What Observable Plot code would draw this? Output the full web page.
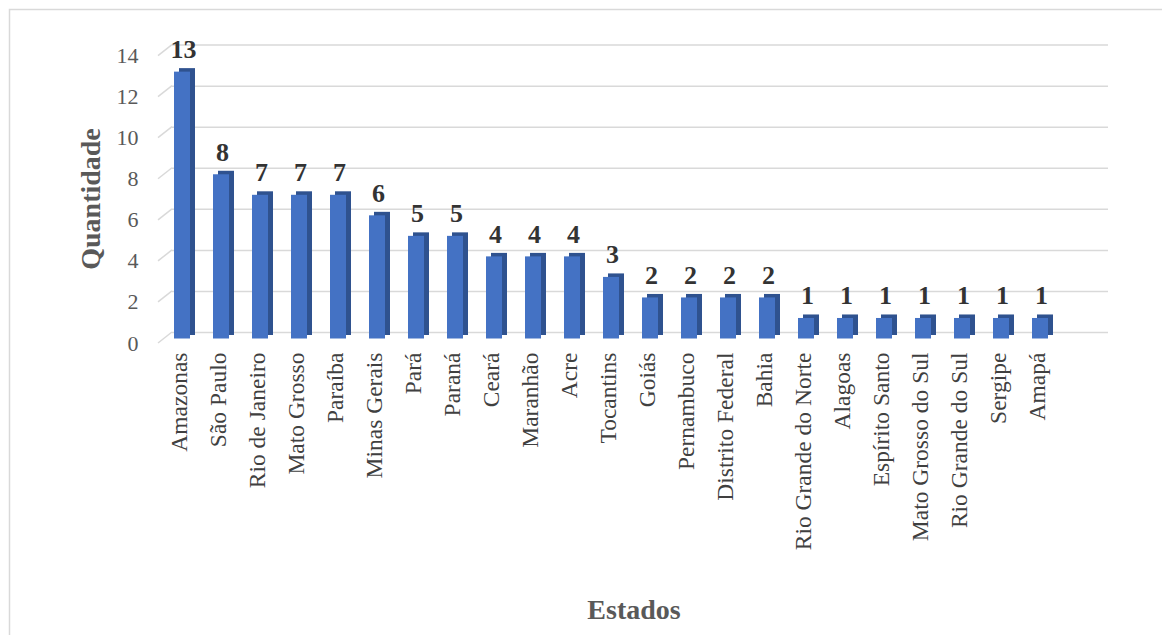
<!DOCTYPE html>
<html>
<head>
<meta charset="utf-8">
<script src="https://cdn.jsdelivr.net/npm/d3@7"></script>
<script src="https://cdn.jsdelivr.net/npm/@observablehq/plot@0.6"></script>
<style>
  html, body { margin: 0; padding: 0; background: #fff; }
  #chart svg { display: block; }
</style>
</head>
<body>
<div id="chart"></div>
<script>
const states = ["Amazonas","São Paulo","Rio de Janeiro","Mato Grosso","Paraíba","Minas Gerais","Pará","Paraná","Ceará","Maranhão","Acre","Tocantins","Goiás","Pernambuco","Distrito Federal","Bahia","Rio Grande do Norte","Alagoas","Espírito Santo","Mato Grosso do Sul","Rio Grande do Sul","Sergipe","Amapá"];
const counts = [13,8,7,7,7,6,5,5,4,4,4,3,2,2,2,2,1,1,1,1,1,1,1];
const yTicks = [0,2,4,6,8,10,12,14];
const xTitle = "Estados";
const yTitle = "Quantidade";

const data = states.map((s, i) => ({state: s, count: counts[i]}));
const font = '"Liberation Serif", "Times New Roman", serif';
const front = "#4472c4", side = "#2f528f";
const depthX = 5, depthY = 3.5, barLift = 4.5, backX = 14, backY = 11;

const chart = Plot.plot({
  width: 1162,
  height: 635,
  marginLeft: 158,
  marginRight: 54,
  marginTop: 55.6,
  marginBottom: 292,
  style: {fontFamily: font, background: "#fff", overflow: "visible"},
  x: {domain: states, range: [162, 1060], paddingInner: 0.6, paddingOuter: 0.3, label: null},
  y: {domain: [0, 14], label: null},
  marks: [
    Plot.ruleY(yTicks, {stroke: "#d9d9d9", strokeWidth: 1.5, insetLeft: backX, dy: -backY}),
    Plot.barY(data, {x: "state", y: "count", fill: side, dx: depthX, dy: -barLift - depthY}),
    Plot.barY(data, {x: "state", y: "count", fill: front, dy: -barLift}),
    Plot.text(data, {x: "state", y: "count", text: d => String(d.count), dy: -barLift - 22.5, dx: 1,
      fontSize: 26, fontWeight: "bold", fill: "#333333"}),
    Plot.axisY(yTicks, {tickSize: 0, tickPadding: 20, fontSize: 22, color: "#595959", label: null, tickFormat: d => String(d)}),
    Plot.axisX({tickSize: 0, tickPadding: 9, tickRotate: -90, fontSize: 23.5, color: "#404040", label: null, dx: -3})
  ]
});

const svg = d3.select(chart);
const y = chart.scale("y");
const left = 158;
// diagonal floor stubs of the 3D gridlines
svg.insert("g", ":first-child")
  .selectAll("line").data(yTicks).join("line")
  .attr("x1", left).attr("y1", d => y.apply(d))
  .attr("x2", left + backX).attr("y2", d => y.apply(d) - backY)
  .attr("stroke", "#d9d9d9").attr("stroke-width", 1.5);
// outer chart border
svg.append("rect").attr("x", 9.5).attr("y", 9.5).attr("width", 1300).attr("height", 800)
  .attr("fill", "none").attr("stroke", "#d9d9d9").attr("stroke-width", 1.5);
// axis titles
svg.append("text").text(yTitle)
  .attr("transform", "translate(100,199) rotate(-90)")
  .attr("text-anchor", "middle")
  .attr("font-family", font).attr("font-weight", "bold").attr("font-size", 28).attr("fill", "#595959");
svg.append("text").text(xTitle)
  .attr("x", 634).attr("y", 619)
  .attr("text-anchor", "middle")
  .attr("font-family", font).attr("font-weight", "bold").attr("font-size", 28).attr("fill", "#595959");

document.getElementById("chart").appendChild(chart);
</script>
</body>
</html>
